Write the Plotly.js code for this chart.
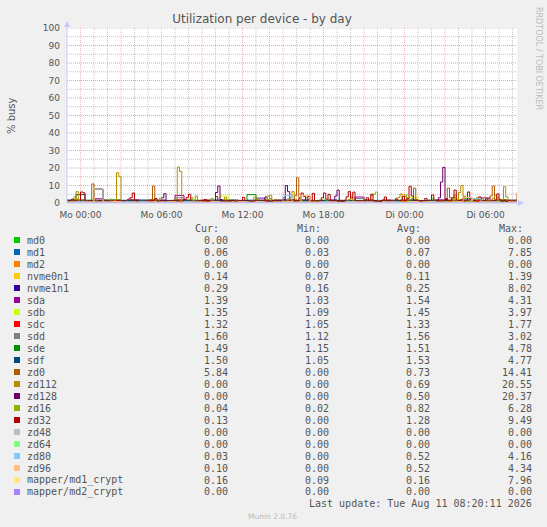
<!DOCTYPE html>
<html><head><meta charset="utf-8">
<script src="https://cdn.plot.ly/plotly-3.0.1.min.js"></script>
<style>html,body{margin:0;padding:0;background:#F0F0F0;}#chart{width:547px;height:527px;}</style>
</head><body><div id="chart"></div>
<script>
// sample times in minutes relative to Mo 00:00
const t10 = [-60,-50,-40,-30,-20,-10,0,10,20,30,
40,50,60,70,80,90,100,110,120,130,
140,150,160,170,180,190,200,210,220,230,
240,250,260,270,280,290,300,310,320,330,
340,350,360,370,380,390,400,410,420,430,
440,450,460,470,480,490,500,510,520,530,
540,550,560,570,580,590,600,610,620,630,
640,650,660,670,680,690,700,710,720,730,
740,750,760,770,780,790,800,810,820,830,
840,850,860,870,880,890,900,910,920,930,
940,950,960,970,980,990,1000,1010,1020,1030,
1040,1050,1060,1070,1080,1090,1100,1110,1120,1130,
1140,1150,1160,1170,1180,1190,1200,1210,1220,1230,
1240,1250,1260,1270,1280,1290,1300,1310,1320,1330,
1340,1350,1360,1370,1380,1390,1400,1410,1420,1430,
1440,1450,1460,1470,1480,1490,1500,1510,1520,1530,
1540,1550,1560,1570,1580,1590,1600,1610,1620,1630,
1640,1650,1660,1670,1680,1690,1700,1710,1720,1730,
1740,1750,1760,1770,1780,1790,1800,1810,1820,1830,
1840,1850,1860,1870,1880,1890,1900,1910,1920,1930,
1940];
const t40 = [-60,-20,20,60,100,140,180,220,260,300,340,380,420,460,500,540,580,620,660,700,740,780,820,860,900,940,980,1020,1060,1100,1140,1180,1220,1260,1300,1340,1380,1420,1460,1500,1540,1580,1620,1660,1700,1740,1780,1820,1860,1900,1940];
const tEnds = [-60,1940];

const tickVals = [0,180,360,540,720,900,1080,1260,1440,1620,1800];
const tickText = ['Mo 00:00','','Mo 06:00','','Mo 12:00','','Mo 18:00','','Di 00:00','','Di 06:00'];

const names = ['md0','md1','md2','nvme0n1','nvme1n1','sda','sdb','sdc','sdd','sde','sdf','zd0','zd112','zd128','zd16','zd32','zd48','zd64','zd80','zd96','mapper/md1_crypt','mapper/md2_crypt'];
const colors = ['#00CC00','#0066B3','#FF8000','#FFCC00','#330099','#990099','#CCFF00','#FF0000','#808080','#008F00','#00487D','#B35A00','#B38F00','#6B006B','#8FB300','#B30000','#BEBEBE','#80FF80','#80C9FF','#FFC080','#FFE680','#AA80FF'];
const curVals = ['0.00','0.06','0.00','0.14','0.29','1.39','1.35','1.32','1.60','1.49','1.50','5.84','0.00','0.00','0.04','0.13','0.00','0.00','0.03','0.10','0.16','0.00'];
const minVals = ['0.00','0.03','0.00','0.07','0.16','1.03','1.09','1.05','1.12','1.15','1.05','0.00','0.00','0.00','0.02','0.00','0.00','0.00','0.00','0.00','0.09','0.00'];
const avgVals = ['0.00','0.07','0.00','0.11','0.25','1.54','1.45','1.33','1.56','1.51','1.53','0.73','0.69','0.50','0.82','1.28','0.00','0.00','0.52','0.52','0.16','0.00'];
const maxVals = ['0.00','7.85','0.00','1.39','8.02','4.31','3.97','1.77','3.02','4.78','4.77','14.41','20.55','20.37','6.28','9.49','0.00','0.00','4.16','4.34','7.96','0.00'];

const md0 = [0,0];
const md2 = [0,0];
const zd48 = [0,0];
const zd64 = [0,0];
const md2_crypt = [0,0];

const md1 = [0.05,0.06,0.04,7.85,0.05,0.04,0.06,0.05,0.04,0.05, 0.06,0.04,0.05,0.03,0.05,0.06,0.04,0.05,0.05,0.04, 0.06,0.05,0.04,0.05,0.06,0.05,0.04,0.03,0.05,0.06, 0.05,0.04,0.05,0.06,0.04,0.05,0.05,0.04,0.06,0.05, 0.04,0.05,0.06,0.05,0.04,0.05,0.06,0.04,0.05,0.05,0.06];
const nvme0n1 = [0.10,0.12,0.09,1.39,0.11,0.08,0.10,0.12,0.09,0.11, 0.10,0.08,0.12,0.09,0.10,0.11,0.07,0.10,0.12,0.09, 0.11,0.10,0.08,0.12,0.10,0.09,0.11,0.10,0.08,0.12, 0.09,0.10,0.11,0.08,0.10,0.12,0.09,0.11,0.10,0.08, 0.12,0.10,0.09,0.11,0.10,0.08,0.12,0.10,0.09,0.11,0.14];
const nvme1n1 = [0.22,0.25,0.20,8.02,0.24,0.18,0.21,0.23,0.19,0.22, 0.20,0.17,0.23,0.21,0.19,0.22,0.16,0.20,0.24,0.21, 0.22,0.19,0.18,0.23,0.20,0.21,0.22,0.19,0.17,0.23, 0.21,0.20,0.22,0.18,0.21,0.24,0.19,0.22,0.20,0.18, 0.23,0.21,0.19,0.22,0.20,0.18,0.24,0.21,0.19,0.22,0.29];
const sda = [1.5,1.8,1.3,2.4,1.6,1.2,1.4,1.9,1.3,1.5, 1.6,1.2,4.31,1.5,1.3,1.7,1.4,1.2,1.6,1.5, 1.3,2.8,1.4,1.6,1.2,1.5,1.8,1.3,1.4,1.6, 1.2,1.5,3.4,1.4,1.3,1.7,1.5,1.2,1.6,1.4, 1.3,1.8,1.5,1.03,1.6,1.4,2.9,1.5,1.3,1.6,1.39];
const sdb = [1.4,1.6,1.3,1.5,1.2,1.7,1.4,1.3,1.5,1.6, 1.3,1.4,1.2,1.5,1.7,1.3,1.4,3.97,1.5,1.3, 1.4,1.2,1.6,1.4,1.3,1.5,1.2,1.4,1.6,1.3, 1.5,1.4,1.2,1.6,1.3,1.09,1.5,1.4,3.2,1.3, 1.5,1.4,1.2,1.6,1.3,1.5,1.4,1.3,1.6,1.4,1.35];
const sdc = [1.3,1.4,1.2,1.5,1.3,1.1,1.4,1.3,1.2,1.5, 1.3,1.4,1.77,1.3,1.2,1.4,1.3,1.5,1.2,1.3, 1.4,1.3,1.2,1.6,1.3,1.4,1.2,1.3,1.05,1.4, 1.3,1.5,1.2,1.3,1.4,1.3,1.2,1.5,1.3,1.4, 1.2,1.3,1.6,1.3,1.4,1.2,1.3,1.5,1.3,1.2,1.32];
const sdd = [1.5,1.7,1.4,1.6,1.8,1.3,1.5,1.6,1.4,1.7, 1.5,1.3,3.02,1.6,1.4,1.5,1.7,1.3,1.6,1.5, 1.4,1.8,1.5,1.3,1.6,1.4,1.7,1.5,1.12,1.6, 1.5,1.4,2.6,1.5,1.3,1.7,1.5,1.4,1.6,1.5, 1.4,1.7,1.5,1.3,1.6,1.8,1.5,1.4,1.6,1.5,1.60];
const sde = [1.5,1.4,1.6,1.3,1.5,1.7,1.4,1.5,1.3,1.6, 1.4,1.5,1.2,1.6,1.4,1.5,1.3,1.7,1.5,1.4, 4.78,1.5,1.3,1.6,1.4,1.5,1.3,1.4,1.6,1.5, 1.3,1.4,1.5,1.7,1.4,1.2,1.5,1.4,1.6,1.3, 1.5,1.4,1.15,1.6,2.8,1.4,1.5,1.3,1.6,1.4,1.49];
const sdf = [1.6,4.77,1.4,1.5,1.3,1.6,1.5,1.4,1.7,1.3, 1.5,1.4,1.6,1.2,1.5,1.4,1.6,1.3,1.5,1.4, 1.6,1.3,1.5,1.4,1.7,1.3,1.5,1.05,1.4,1.6, 1.5,1.3,1.4,1.6,1.5,1.4,1.3,1.7,1.5,1.4, 1.6,1.3,1.5,1.4,1.6,1.5,1.3,1.4,1.6,1.5,1.50];
const zd80 = [0.4,0.8,0.3,0.6,0.5,0.2,0.7,0.4,0.9,0.3, 0.5,0.6,0.2,0.8,0.4,0.3,0.7,0.5,0.0,0.6, 0.4,0.8,0.3,0.5,4.16,0.4,0.6,0.2,0.7,0.5, 0.3,0.8,0.4,0.6,0.2,0.5,0.7,0.3,0.6,0.4, 0.8,0.5,0.3,0.6,0.4,2.5,0.5,0.7,0.3,0.4,0.03];
const zd96 = [0.5,0.3,0.7,0.4,0.6,0.8,0.3,0.5,0.2,0.6, 0.4,0.7,0.5,0.3,0.6,0.4,0.8,0.2,0.5,0.7, 0.3,0.6,0.4,0.5,0.8,0.3,4.34,0.5,0.4,0.6, 0.2,0.5,0.7,0.4,0.0,0.6,0.3,0.5,0.8,0.4, 0.6,0.3,0.5,0.7,3.1,0.4,0.6,0.5,0.3,0.6,0.10];
const md1_crypt = [0.12,0.15,0.11,7.96,0.14,0.10,0.13,0.15,0.11,0.12, 0.14,0.10,0.13,0.09,0.12,0.15,0.11,0.13,0.12,0.10, 0.14,0.12,0.11,0.13,0.15,0.12,0.10,0.09,0.13,0.14, 0.12,0.11,0.13,0.15,0.10,0.12,0.13,0.11,0.14,0.12, 0.10,0.13,0.15,0.12,0.11,0.13,0.14,0.10,0.12,0.13,0.16];

const zd0 = [0.3,0.5,0.8,0.4,2.1,1.2,0.6,0.5,0.4,0.9,
1.5,10.9,1.8,0.4,0.3,0.2,0.6,0.5,0.3,0.2,
0.4,0.6,1.4,0.5,0.3,0.2,0.3,0.8,0.5,0.4,
0.3,0.6,0.4,0.3,1.1,0.5,0.8,2.0,9.7,1.2,
0.6,0.4,0.3,0.5,0.2,0.4,0.3,0.6,0.4,0.9,
0.5,0.3,0.2,0.4,0.6,0.3,0.2,0.5,0.4,0.3,
0.6,0.4,0.3,0.5,1.2,0.6,0.4,0.3,0.2,0.4,
0.7,0.5,0.3,0.4,0.2,0.6,0.4,0.3,0.5,0.4,
0.2,0.5,0.6,0.4,1.8,0.5,0.3,0.4,0.6,1.0,
2.5,0.6,0.4,0.3,0.5,0.8,3.1,0.7,0.5,0.6,
1.4,4.2,14.41,3.0,1.2,0.6,0.4,0.5,0.8,0.3,
0.6,0.4,0.5,0.9,0.6,0.3,0.4,0.5,0.7,0.4,
0.3,0.5,0.4,0.9,0.6,0.4,0.3,0.5,0.6,0.4,
1.1,0.5,0.3,0.4,0.6,0.5,0.4,0.3,0.6,0.5,
0.4,0.3,0.6,0.5,1.2,0.7,0.5,0.4,0.6,0.9,
3.8,1.2,0.9,2.4,8.5,2.0,1.0,0.6,0.8,0.5,
0.4,0.6,0.5,1.8,0.7,0.9,1.5,0.7,2.2,8.5,
3.0,1.5,0.8,1.2,0.7,0.8,3.5,1.4,1.2,0.6,
0.8,2.4,1.0,0.8,1.5,0.9,1.2,2.6,4.0,9.7,
2.1,1.1,0.7,0.9,2.0,1.1,0.8,1.5,0.9,1.2,
5.84];
const zd112 = [0.2,0.4,0.5,2.0,6.5,1.2,0.8,0.3,0.4,0.2,
0.3,0.2,0.4,0.1,0.3,0.2,0.4,0.3,0.2,0.5,
0.6,1.5,17.3,15.0,0.8,0.2,0.1,0.3,0.2,0.4,
0.3,0.5,0.2,0.1,0.3,0.2,0.4,0.2,0.3,0.5,
0.2,0.4,0.1,0.3,0.2,0.4,0.3,1.0,2.5,20.55,
18.0,0.9,0.3,0.2,0.4,0.3,1.2,4.0,0.6,0.3,
0.2,0.4,0.3,0.1,0.2,0.4,0.3,0.2,0.5,0.3,
3.2,0.6,0.3,0.2,0.1,0.4,0.2,0.3,0.5,0.2,
0.1,0.3,0.2,0.6,0.4,0.3,0.2,0.4,1.2,2.0,
4.5,0.8,0.4,0.2,0.3,0.5,0.3,0.6,1.5,3.0,
6.5,2.2,0.4,0.3,0.2,0.5,0.3,0.2,0.4,0.3,
0.2,0.4,0.3,0.5,0.2,0.3,0.6,0.4,0.2,0.3,
0.4,0.2,0.3,0.5,1.0,2.0,3.8,0.9,0.4,0.3,
0.2,0.4,0.3,0.2,0.5,0.3,0.6,0.4,0.3,0.2,
0.5,0.3,0.2,0.6,0.4,1.5,2.8,3.2,5.2,1.0,
0.8,0.5,0.4,0.3,0.6,0.4,0.3,0.5,0.2,0.4,
0.3,0.6,0.4,0.5,0.8,1.2,0.6,0.4,0.5,0.7,
1.2,2.0,3.0,1.5,6.0,10.0,4.0,1.1,0.6,0.4,
0.6,0.8,1.2,0.5,2.5,0.9,0.6,0.8,1.5,2.8,
4.2,1.0,0.6,2.0,9.3,3.5,0.8,0.5,0.6,0.4,
0.00];
const zd128 = [0.1,0.3,0.2,0.4,0.1,0.2,0.3,0.1,0.4,0.2,
0.1,0.3,0.2,0.1,0.4,0.2,0.3,0.1,0.2,0.3,
0.1,0.2,0.4,0.1,0.3,0.2,0.1,0.4,0.2,0.1,
0.3,0.2,0.1,0.4,1.1,0.3,0.2,0.1,0.3,0.2,
0.4,1.5,3.0,5.3,1.2,0.3,0.2,0.1,0.3,0.2,
0.1,0.3,0.2,0.4,0.1,0.2,0.3,0.1,0.2,0.4,
0.1,0.3,0.2,0.1,0.4,1.5,6.0,9.7,2.0,0.4,
0.2,0.1,0.3,0.2,0.4,0.1,0.2,0.3,0.1,0.2,
0.4,0.2,0.1,0.3,0.2,0.1,0.4,1.0,3.5,0.6,
0.2,0.1,0.3,0.2,0.4,0.1,2.0,10.0,6.5,0.5,
0.2,0.3,0.1,0.2,0.4,0.1,0.3,0.2,0.1,0.4,
0.2,0.3,0.1,0.2,0.4,0.2,0.1,0.3,1.2,4.0,
7.4,1.0,0.3,0.2,0.1,0.4,0.2,0.1,0.3,0.2,
0.4,0.1,0.2,0.3,0.1,0.2,0.4,0.1,0.3,0.2,
0.1,0.4,0.2,0.1,0.3,0.2,0.4,0.1,0.2,0.3,
0.1,0.2,0.4,0.1,0.3,0.2,0.1,0.4,0.2,0.1,
0.3,0.2,0.4,0.1,0.6,3.0,12.0,20.37,2.5,0.4,
0.2,0.1,0.3,0.2,0.4,0.1,0.2,0.3,0.1,0.2,
0.4,0.2,0.1,0.3,0.2,0.1,0.4,0.2,0.3,0.1,
0.2,0.4,0.1,0.3,0.2,0.1,0.4,0.2,0.1,0.3,
0.00];
const zd16 = [0.6,1.2,0.8,3.5,1.0,0.6,0.9,0.5,1.5,0.7,
0.5,0.8,0.6,1.1,0.4,0.7,0.9,0.5,0.6,2.2,
0.8,0.5,0.9,0.6,0.4,0.7,1.3,0.5,0.8,0.6,
0.4,0.9,0.6,1.0,0.5,0.7,0.4,0.8,0.6,1.2,
0.5,2.8,0.7,0.4,0.6,0.9,0.5,0.8,0.4,0.7,
1.2,0.6,0.4,0.8,0.5,3.0,0.7,0.5,0.9,0.4,
0.6,0.8,0.5,0.7,2.6,0.9,0.5,0.4,0.8,0.6,
0.7,0.5,0.9,0.6,0.4,1.1,0.8,0.5,0.7,0.6,
0.4,0.8,0.6,3.4,0.9,0.5,0.7,0.4,0.8,4.0,
0.9,0.6,0.5,0.8,0.4,0.7,0.6,0.9,2.5,0.5,
0.8,0.6,1.0,0.5,0.7,0.4,3.1,0.8,0.6,0.5,
0.9,0.7,0.4,0.6,0.8,1.2,0.5,0.7,0.6,0.9,
0.5,0.8,0.6,0.4,0.7,0.9,0.5,1.0,0.6,0.8,
0.4,0.7,0.9,0.6,2.0,4.2,5.0,6.28,1.5,0.8,
0.6,0.9,0.5,0.7,1.4,0.6,0.8,0.5,0.9,2.0,
4.8,1.2,0.7,0.5,0.9,0.6,0.8,0.5,1.1,0.7,
0.6,0.9,2.8,0.5,0.8,0.6,1.1,0.7,0.5,0.9,
0.6,0.8,4.5,1.0,0.7,0.5,0.9,0.6,0.8,1.3,
0.7,0.5,3.2,0.9,0.6,0.8,0.5,1.3,0.7,0.9,
0.6,2.9,0.8,0.5,0.7,0.9,0.6,0.3,0.2,0.1,
0.04];
const zd32 = [1.0,1.4,2.2,1.5,1.2,0.9,6.3,5.8,1.2,0.9,
1.4,0.8,1.1,0.9,1.3,0.7,1.6,1.0,1.2,0.9,
1.1,0.8,1.4,1.0,1.2,0.9,1.5,2.2,3.0,5.7,
1.2,0.8,1.1,0.9,1.4,0.8,1.2,1.0,1.6,2.5,
0.9,1.1,1.6,1.0,0.8,1.2,0.9,1.5,1.1,1.3,
0.8,1.2,2.0,3.2,5.0,1.0,0.8,1.2,0.9,1.5,
1.1,2.0,0.8,1.3,1.0,0.9,3.6,1.1,0.8,1.4,
1.0,1.2,0.9,1.5,1.1,0.8,1.3,1.0,3.2,0.9,
1.2,1.0,0.8,1.5,1.1,1.3,0.9,1.2,1.0,1.4,
0.8,1.1,1.5,0.9,1.2,1.0,1.4,0.9,1.1,1.6,
2.0,1.1,1.4,2.5,5.7,3.8,1.2,3.8,1.0,5.5,
1.2,0.9,1.4,3.0,5.7,2.2,4.9,1.1,0.9,1.3,
1.0,1.2,0.8,1.5,3.5,6.5,2.8,6.2,1.2,0.8,
1.1,1.4,0.9,3.0,1.2,5.0,1.4,1.0,1.2,0.9,
1.5,3.4,1.1,0.9,1.5,1.2,2.2,1.0,1.3,3.8,
1.2,2.6,9.49,4.0,1.6,1.0,1.2,0.9,1.4,2.6,
1.0,1.3,4.6,1.2,0.9,1.5,1.1,1.4,2.0,1.3,
1.2,3.0,7.4,1.6,1.3,2.0,1.1,1.5,6.3,2.0,
1.1,1.5,0.9,3.5,1.2,1.4,2.4,1.0,1.3,0.9,
1.5,5.2,1.8,1.0,1.3,0.8,1.2,1.0,0.9,0.5,
0.13];

const seriesY = [md0,md1,md2,nvme0n1,nvme1n1,sda,sdb,sdc,sdd,sde,sdf,zd0,zd112,zd128,zd16,zd32,zd48,zd64,zd80,zd96,md1_crypt,md2_crypt];
const seriesX = [tEnds,t40,tEnds,t40,t40,t40,t40,t40,t40,t40,t40,t10,t10,t10,t10,t10,tEnds,tEnds,t40,t40,t40,tEnds];

const traces = names.map((n,i)=>({
  type:'scatter', mode:'lines', name:n, x:seriesX[i], y:seriesY[i],
  line:{color:colors[i], width:1, shape:'hv'}, hoverinfo:'skip'
}));

// pixel -> paper helpers (plot area 67..517 x 28..203)
const L=67, R=517, T=28, B=203;
const PX = x => (x-L)/(R-L);
const PY = y => (B-y)/(B-T);

const mono = {family:'DejaVu Sans Mono', size:10, color:'#555555'};
const ann = [];
const shapes = [];
function txt(x,y,text,font,xa,extra){
  ann.push(Object.assign({x:PX(x), y:PY(y), xref:'paper', yref:'paper', text:text, showarrow:false, xanchor:xa||'left', yanchor:'middle', font:font}, extra||{}));
}
txt(11,116,'% busy',{family:'DejaVu Sans',size:10,color:'#555555'},'center',{textangle:-90});
txt(538,58,'RRDTOOL / TOBI OETIKER',{family:'DejaVu Sans',size:8,color:'#BBBBBB'},'center',{textangle:90});
txt(193,228,'Cur:',mono,'left');
txt(295,228,'Min:',mono,'left');
txt(395,228,'Avg:',mono,'left');
txt(497,228,'Max:',mono,'left');
names.forEach((n,i)=>{
  const y = 240 + 12*i;
  txt(25,y,n,mono,'left');
  txt(230,y,curVals[i],mono,'right');
  txt(331,y,minVals[i],mono,'right');
  txt(432,y,avgVals[i],mono,'right');
  txt(534,y,maxVals[i],mono,'right');
  shapes.push({type:'rect', xref:'paper', yref:'paper', x0:PX(14), x1:PX(20), y0:PY(y+3), y1:PY(y-3), fillcolor:colors[i], line:{width:0}});
});
txt(534,504,'Last update: Tue Aug 11 08:20:11 2026',mono,'right');
txt(272.5,516,'Munin 2.0.76',{family:'DejaVu Sans',size:7.5,color:'#BBBBBB'},'center');

// grid lines (dotted, RRDtool style): major red, minor grey
const majColV = 'rgba(240,80,80,0.45)';
const majColH = '#F2A0A0';
const minCol = 'rgba(150,150,150,0.55)';
for (let m=0; m<=1920; m+=60){
  const major = (m % 180 === 0);
  shapes.push({type:'line', layer:'below', xref:'x', yref:'y', x0:m, x1:m, y0:0, y1:100, line:{color:major?majColV:minCol, width:1, dash:'1px,1px'}});
}
for (let v=5; v<=100; v+=5){
  const major = (v % 10 === 0);
  shapes.push({type:'line', layer:'below', xref:'x', yref:'y', x0:-60, x1:1940, y0:v, y1:v+0.001, line:{color:major?majColH:minCol, width:1, dash:'1px,1px'}});
}

// axis lines with arrows
const axCol = '#C8C8FF';
shapes.push({type:'line', xref:'paper', yref:'paper', x0:PX(67), x1:PX(67), y0:PY(203), y1:PY(24), line:{color:axCol,width:1}});
shapes.push({type:'line', xref:'paper', yref:'paper', x0:PX(67), x1:PX(520), y0:PY(203), y1:PY(203), line:{color:axCol,width:1}});
shapes.push({type:'path', xref:'paper', yref:'paper', path:`M ${PX(64)} ${PY(27)} L ${PX(70)} ${PY(27)} L ${PX(67)} ${PY(21)} Z`, fillcolor:axCol, line:{width:0}});
shapes.push({type:'path', xref:'paper', yref:'paper', path:`M ${PX(518)} ${PY(200)} L ${PX(518)} ${PY(206)} L ${PX(524)} ${PY(203)} Z`, fillcolor:axCol, line:{width:0}});

const layout = {
  width:547, height:527,
  paper_bgcolor:'#F0F0F0', plot_bgcolor:'#FFFFFF',
  margin:{l:L, r:547-R, t:T, b:527-B, pad:0},
  showlegend:false,
  title:{text:'Utilization per device - by day', font:{family:'DejaVu Sans', size:12, color:'#555555'}, xref:'container', yref:'container', x:262/547, xanchor:'center', y:1-18.5/527, yanchor:'middle'},
  xaxis:{range:[-60,1940], tickmode:'array', tickvals:tickVals, ticktext:tickText,
    showgrid:false, zeroline:false, showline:false, ticks:'', ticklabelstandoff:5,
    tickfont:{family:'DejaVu Sans', size:9, color:'#555555'}, fixedrange:true},
  yaxis:{range:[0,100], tickmode:'linear', tick0:0, dtick:10,
    showgrid:false, zeroline:false, showline:false, ticks:'', ticklabelstandoff:6,
    tickfont:{family:'DejaVu Sans', size:9, color:'#555555'}, fixedrange:true},
  annotations:ann, shapes:shapes
};
Plotly.newPlot('chart', traces, layout, {displayModeBar:false, staticPlot:true});
</script></body></html>
